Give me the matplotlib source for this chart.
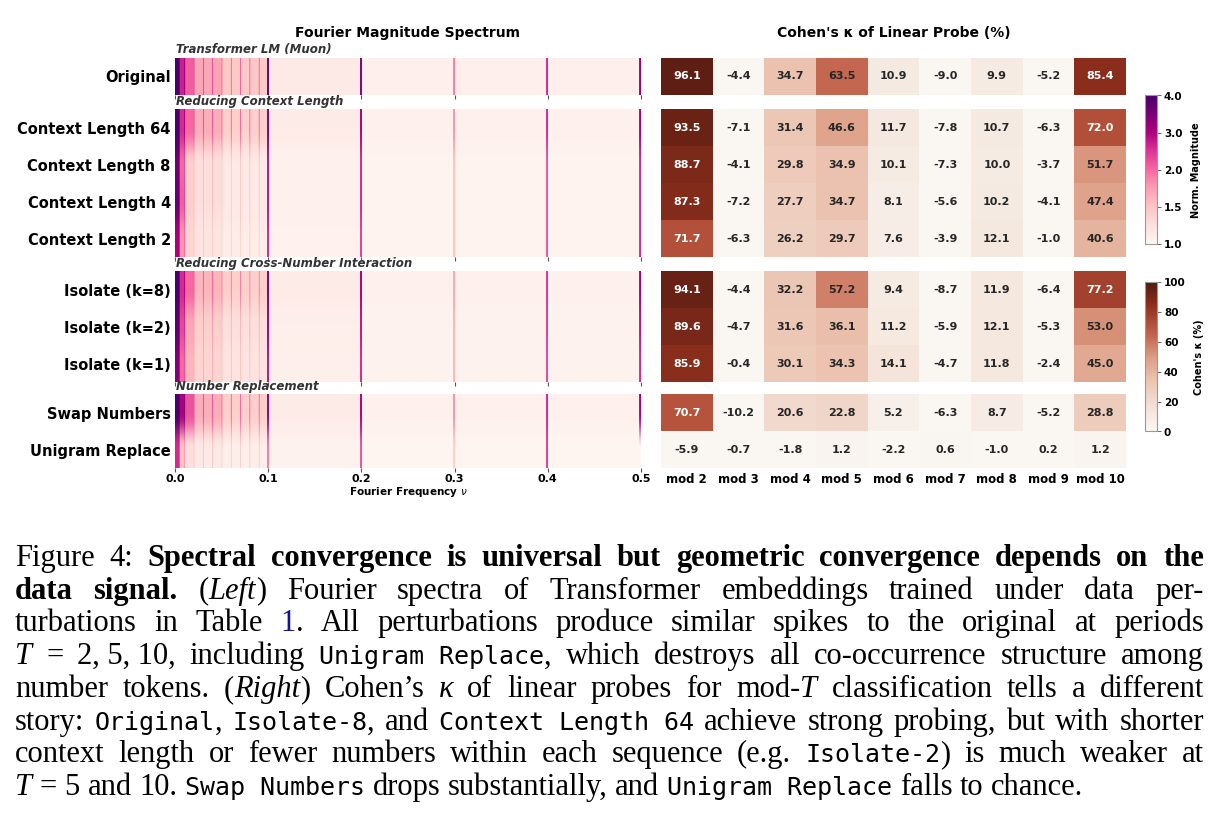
import matplotlib
matplotlib.use("Agg")
import matplotlib.pyplot as plt
import matplotlib.colors as mcolors
import matplotlib.cm as cm
import numpy as np

W, H = 1223, 822

### data

row_labels = ["Original",
              "Context Length 64", "Context Length 8", "Context Length 4", "Context Length 2",
              "Isolate (k=8)", "Isolate (k=2)", "Isolate (k=1)",
              "Swap Numbers", "Unigram Replace"]
group_titles = ["Transformer LM (Muon)", "Reducing Context Length",
                "Reducing Cross-Number Interaction", "Number Replacement"]
group_sizes = [1, 4, 3, 2]

mods = ["mod 2", "mod 3", "mod 4", "mod 5", "mod 6", "mod 7", "mod 8", "mod 9", "mod 10"]
kappa = [
    [96.1, -4.4, 34.7, 63.5, 10.9, -9.0, 9.9, -5.2, 85.4],
    [93.5, -7.1, 31.4, 46.6, 11.7, -7.8, 10.7, -6.3, 72.0],
    [88.7, -4.1, 29.8, 34.9, 10.1, -7.3, 10.0, -3.7, 51.7],
    [87.3, -7.2, 27.7, 34.7, 8.1, -5.6, 10.2, -4.1, 47.4],
    [71.7, -6.3, 26.2, 29.7, 7.6, -3.9, 12.1, -1.0, 40.6],
    [94.1, -4.4, 32.2, 57.2, 9.4, -8.7, 11.9, -6.4, 77.2],
    [89.6, -4.7, 31.6, 36.1, 11.2, -5.9, 12.1, -5.3, 53.0],
    [85.9, -0.4, 30.1, 34.3, 14.1, -4.7, 11.8, -2.4, 45.0],
    [70.7, -10.2, 20.6, 22.8, 5.2, -6.3, 8.7, -5.2, 28.8],
    [-5.9, -0.7, -1.8, 1.2, -2.2, 0.6, -1.0, 0.2, 1.2],
]

# spectrum: band levels, harmonic stripes, spikes
n_bins = 501                      # k/1000, k = 0..500
band_edges = [0.0, 0.005, 0.011, 0.02, 0.05, 0.1, 0.2, 0.5]
band_vals = [
    [4.0, 2.7, 2.1, 1.7, 1.45, 1.14, 1.08],
    [4.0, 2.6, 2.0, 1.65, 1.4, 1.13, 1.07],
    [3.6, 2.0, 1.4, 1.25, 1.15, 1.07, 1.04],
    [3.7, 2.1, 1.4, 1.25, 1.15, 1.07, 1.04],
    [3.0, 1.8, 1.35, 1.2, 1.12, 1.06, 1.04],
    [4.0, 2.6, 2.0, 1.6, 1.4, 1.13, 1.07],
    [3.8, 2.3, 1.7, 1.4, 1.25, 1.09, 1.05],
    [3.4, 2.0, 1.6, 1.35, 1.2, 1.08, 1.05],
    [4.0, 3.0, 2.2, 1.65, 1.4, 1.13, 1.07],
    [2.6, 1.5, 1.25, 1.15, 1.1, 1.05, 1.03],
]
stripe_freqs = [0.01, 0.02, 0.03, 0.04, 0.05, 0.06, 0.07, 0.08, 0.09]
stripe_boost = [0.6, 0.6, 0.3, 0.3, 0.25, 0.5, 0.35, 0.3, 0.6, 0.3]
spike_freqs = [0.1, 0.2, 0.3, 0.4, 0.5]
spike_vals = [
    [3.6, 3.4, 1.9, 2.6, 3.2],
    [3.4, 3.0, 1.8, 2.6, 3.0],
    [2.8, 2.6, 1.5, 2.2, 2.6],
    [2.8, 2.6, 1.5, 2.2, 2.6],
    [2.6, 2.4, 1.5, 2.2, 2.6],
    [3.4, 3.0, 1.7, 2.5, 3.0],
    [3.0, 2.8, 1.6, 2.4, 2.8],
    [2.8, 2.6, 1.6, 2.3, 2.6],
    [3.2, 3.0, 1.8, 2.6, 3.0],
    [1.9, 2.2, 1.4, 2.4, 1.0],
]

caption = [
    [("Figure 4: ", "rm"), ("Spectral convergence is universal but geometric convergence depends on the", "bf")],
    [("data signal.", "bf"), (" (", "rm"), ("Left", "it"), (") Fourier spectra of Transformer embeddings trained under data per-", "rm")],
    [("turbations in Table ", "rm"), ("1", "link"), (". All perturbations produce similar spikes to the original at periods", "rm")],
    [("T", "it"), (" = 2,~5,~10, including ", "rm"), ("Unigram~Replace", "tt"), (", which destroys all co-occurrence structure among", "rm")],
    [("number tokens. (", "rm"), ("Right", "it"), (") Cohen\u2019s ", "rm"), ("\u03ba", "it"), (" of linear probes for mod-", "rm"), ("T", "it"), (" classification tells a different", "rm")],
    [("story: ", "rm"), ("Original", "tt"), (", ", "rm"), ("Isolate-8", "tt"), (", and ", "rm"), ("Context~Length~64", "tt"), (" achieve strong probing, but with shorter", "rm")],
    [("context length or fewer numbers within each sequence (e.g. ", "rm"), ("Isolate-2", "tt"), (") is much weaker at", "rm")],
    [("T", "it"), (" = 5 and 10. ", "rm"), ("Swap~Numbers", "tt"), (" drops substantially, and ", "rm"), ("Unigram~Replace", "tt"), (" falls to chance.", "rm")],
]

### helpers

def rect(x0, y0, x1, y1):
    # pixel box (from top-left) -> figure fraction
    return [x0 / W, 1 - y1 / H, (x1 - x0) / W, (y1 - y0) / H]


spec = np.ones((len(row_labels), n_bins))
freqs = np.arange(n_bins) / 1000.
for r in range(len(row_labels)):
    idx = np.clip(np.searchsorted(band_edges, freqs, side="right") - 1, 0, len(band_vals[r]) - 1)
    spec[r] = np.array(band_vals[r])[idx]
    for f in stripe_freqs:
        spec[r, int(round(f * 1000))] += stripe_boost[r]
    for f, v in zip(spike_freqs, spike_vals[r]):
        k = int(round(f * 1000))
        spec[r, k - 1:k + 1] = v

tick_pts = [1, 1.5, 2, 3, 4]
tick_pos = [0, .25, .5, .75, 1]
spec_norm = mcolors.FuncNorm((lambda x: np.interp(x, tick_pts, tick_pos),
                              lambda y: np.interp(y, tick_pos, tick_pts)), vmin=1, vmax=4)
spec_cmap = plt.get_cmap("RdPu")

kappa_cmap = mcolors.LinearSegmentedColormap.from_list("kappa", [
    (0.0, "#faf6f2"), (0.1, "#f6ebe3"), (0.35, "#ebc2af"), (0.5, "#dd9c84"),
    (0.635, "#c56851"), (0.72, "#b2503a"), (0.854, "#8b2e1d"), (1.0, "#521a10")])

fig = plt.figure(figsize=(W / 100, H / 100), dpi=100)

group_px = [(57.7, 95.0), (109.5, 257.5), (271.5, 382.5), (394.5, 468.5)]
LX0, LX1 = 175, 641
RX0, RX1 = 661, 1126

start = 0
for g, n in enumerate(group_sizes):
    y0, y1 = group_px[g]
    rows = slice(start, start + n)
    last = g == len(group_sizes) - 1

    ax = fig.add_axes(rect(LX0, y0, LX1, y1))
    ax.imshow(spec[rows], cmap=spec_cmap, norm=spec_norm, aspect="auto",
              extent=(0, 0.5, n, 0), interpolation="antialiased")
    ax.set_yticks(np.arange(n) + 0.5)
    ax.set_yticklabels(row_labels[rows], fontsize=10.5, fontweight="bold")
    ax.tick_params(axis="y", length=0, pad=3)
    ax.set_xticks([0, 0.1, 0.2, 0.3, 0.4, 0.5])
    ax.tick_params(axis="x", length=3, width=0.8, color="#555", pad=1)
    for s in ax.spines.values():
        s.set_visible(False)
    if last:
        ax.set_xticklabels(["0.0", "0.1", "0.2", "0.3", "0.4", "0.5"], fontsize=8, fontweight="bold")
        ax.set_xlabel(r"Fourier Frequency $\nu$", fontsize=7.5, fontweight="bold", labelpad=1)
    else:
        ax.set_xticklabels([])
    if g == 0:
        ax.set_title("Fourier Magnitude Spectrum", fontsize=10, fontweight="bold", pad=15)
    fig.text((LX0 + 1) / W, 1 - (y0 - 1.5) / H, group_titles[g], fontsize=8.5,
             fontweight="bold", style="italic", color="#333333", ha="left", va="bottom")

    axr = fig.add_axes(rect(RX0, y0, RX1, y1))
    vals = np.array(kappa[rows])
    axr.imshow(vals, cmap=kappa_cmap, vmin=0, vmax=100, aspect="auto", interpolation="nearest")
    for i in range(vals.shape[0]):
        for j in range(vals.shape[1]):
            v = vals[i, j]
            axr.text(j, i, f"{v:.1f}", ha="center", va="center", fontsize=8, fontweight="bold",
                     color="white" if v > 65 else "#262626")
    axr.set_yticks([])
    axr.set_xticks(np.arange(len(mods)))
    axr.tick_params(axis="x", length=0, pad=3)
    if last:
        axr.set_xticklabels(mods, fontsize=8.5, fontweight="bold")
    else:
        axr.set_xticklabels([])
    for s in axr.spines.values():
        s.set_visible(False)
    if g == 0:
        axr.set_title("Cohen's \u03ba of Linear Probe (%)", fontsize=10, fontweight="bold", pad=15)
    start += n

# colorbars
cax1 = fig.add_axes(rect(1145, 95.5, 1157, 244))
cb1 = fig.colorbar(cm.ScalarMappable(norm=spec_norm, cmap=spec_cmap), cax=cax1)
cb1.set_ticks(tick_pts)
cb1.set_ticklabels(["1.0", "1.5", "2.0", "3.0", "4.0"])
cb1.set_label("Norm. Magnitude", fontsize=7, fontweight="bold", labelpad=6)

cax2 = fig.add_axes(rect(1145, 282.5, 1157, 431.5))
cb2 = fig.colorbar(cm.ScalarMappable(norm=mcolors.Normalize(0, 100), cmap=kappa_cmap), cax=cax2)
cb2.set_ticks([0, 20, 40, 60, 80, 100])
cb2.set_label("Cohen's \u03ba (%)", fontsize=7, fontweight="bold", labelpad=6)

for cb in (cb1, cb2):
    cb.outline.set_edgecolor("#999999")
    cb.outline.set_linewidth(0.8)
    cb.ax.tick_params(length=3, width=0.6, color="#555", labelsize=7.5, pad=2)
    for t in cb.ax.get_yticklabels():
        t.set_fontweight("bold")

# caption, justified like the paper
FS = 22
styles = {
    "rm": dict(family="Liberation Serif", size=FS),
    "bf": dict(family="Liberation Serif", size=FS, weight="bold"),
    "it": dict(family="Liberation Serif", size=FS, style="italic"),
    "tt": dict(family="DejaVu Sans Mono", size=18),
    "link": dict(family="Liberation Serif", size=FS, color="#14148c"),
}
renderer = fig.canvas.get_renderer()
CX0, CX1 = 15, 1204
base0, lead = 566, 32.7
for li, segs in enumerate(caption):
    words = [[]]
    for txt, st in segs:
        parts = txt.split(" ")
        for i, p in enumerate(parts):
            if i > 0:
                words.append([])
            if p:
                words[-1].append((p.replace("~", " "), st))
    words = [w for w in words if w]
    y = 1 - (base0 + li * lead) / H
    placed = []
    for w in words:
        pieces = []
        for txt, st in w:
            t = fig.text(0, y, txt, ha="left", va="baseline", **styles[st])
            pieces.append((t, t.get_window_extent(renderer).width))
        placed.append(pieces)
    widths = [sum(pw for _, pw in p) for p in placed]
    if li < len(caption) - 1:
        gap = (CX1 - CX0 - sum(widths)) / (len(words) - 1)
    else:
        gap = 0.25 * FS * 100 / 72
    x = CX0
    for pieces, wd in zip(placed, widths):
        xx = x
        for t, pw in pieces:
            t.set_x(xx / W)
            xx += pw
        x += wd + gap

fig.savefig("out.png", dpi=100)
